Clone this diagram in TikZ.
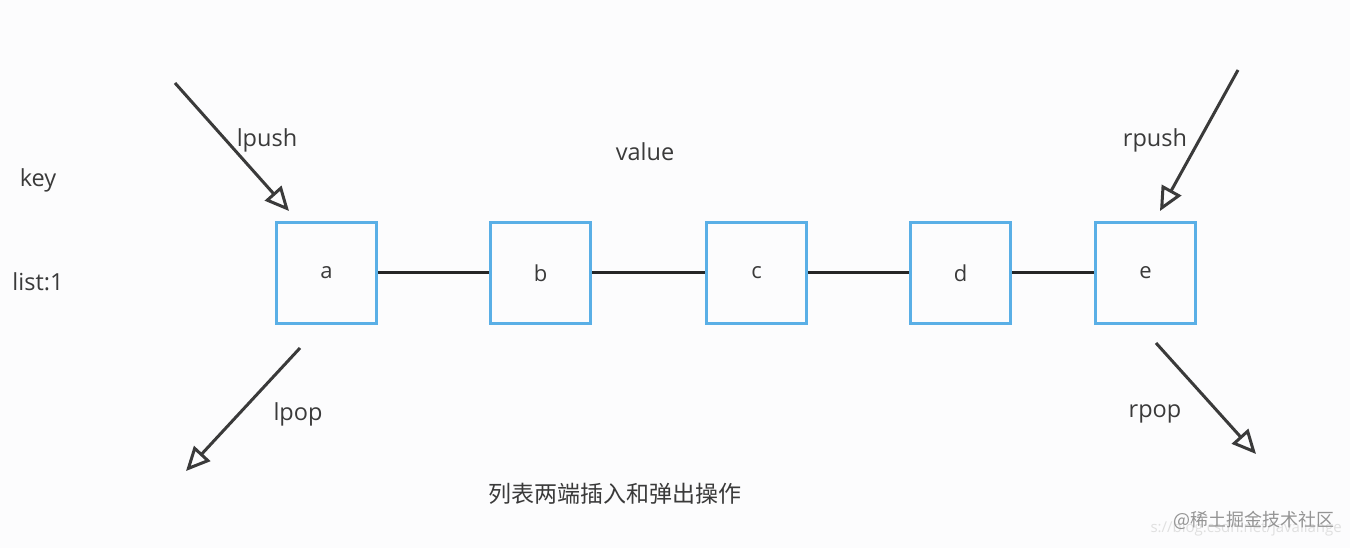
\documentclass[tikz,border=0pt]{standalone}
\usepackage{fontspec}
\setmainfont{Open Sans}
\newfontfamily\cjk{Noto Sans CJK SC}
\usetikzlibrary{arrows.meta}
\definecolor{boxblue}{HTML}{5AAFE6}
\definecolor{ink}{HTML}{3A3A3A}
\definecolor{bg}{HTML}{FCFCFD}
\begin{document}
\begin{tikzpicture}[x=1pt,y=-1pt,
  box/.style={draw=boxblue,line width=3pt,minimum width=100pt,minimum height=100pt,inner sep=0pt,font=\fontsize{22}{26}\selectfont,text=ink},
  lbl/.style={font=\fontsize{23.5}{28}\selectfont,text=ink,inner sep=0pt},
  link/.style={draw=black!85,line width=3pt},
  push/.style={draw=ink,line width=3pt,-{Triangle[open,length=24pt,width=22pt,line width=3pt]}}]
\fill[bg] (0,0) rectangle (1350,548);
\useasboundingbox (0,0) rectangle (1350,548);
\node[box] (a) at (326.5,273) {a};
\node[box] (b) at (540.5,273) {b};
\node[box] (c) at (756.5,273) {c};
\node[box] (d) at (960.5,273) {d};
\node[box] (e) at (1145.5,273) {e};
\draw[link] (a) -- (b);
\draw[link] (b) -- (c);
\draw[link] (c) -- (d);
\draw[link] (d) -- (e);
\node[lbl] (key) at (38,180) {key};
\node[lbl] (list) at (38,282) {list:1};
\node[lbl] (lpush) at (267,140) {lpush};
\node[lbl] (value) at (645,152) {value};
\node[lbl] (rpush) at (1155,140) {rpush};
\node[lbl] (lpop) at (298,414) {lpop};
\node[lbl] (rpop) at (1155,414) {rpop};
\coordinate (lps) at (175,83);
\coordinate (lpe) at (289,211);
\coordinate (lqs) at (300,348);
\coordinate (lqe) at (186,471);
\coordinate (rps) at (1238,70);
\coordinate (rpe) at (1160,211);
\coordinate (rqs) at (1156,343);
\coordinate (rqe) at (1256,454);
\draw[push] (lps) -- (lpe);
\draw[push] (lqs) -- (lqe);
\draw[push] (rps) -- (rpe);
\draw[push] (rqs) -- (rqe);
\node[font=\cjk\fontsize{23}{27}\selectfont,text=ink,inner sep=0pt] (cap) at (615,494) {列表两端插入和弹出操作};
\node[font=\fontsize{15}{18}\selectfont,text=black!12,inner sep=0pt,anchor=east] (url) at (1342,529) {s://blog.csdn.net/javaliange};
\node[font=\cjk\fontsize{18}{22}\selectfont,text=black!42,inner sep=0pt] (wm) at (1254,520) {@稀土掘金技术社区};
\end{tikzpicture}
\end{document}
